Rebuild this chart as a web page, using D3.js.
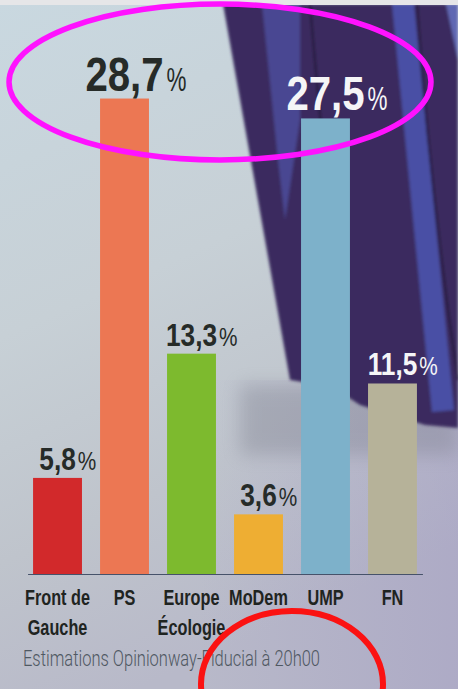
<!DOCTYPE html>
<html>
<head>
<meta charset="utf-8">
<script src="https://cdn.jsdelivr.net/npm/d3@7"></script>
<style>
  html, body { margin: 0; padding: 0; background: #c4cdd4; }
  svg { display: block; }
</style>
</head>
<body>
<div class="chart"></div>
<script>
// ---------------------------------------- data ----------------------------------------
const parties = ["Front de Gauche", "PS", "Europe Écologie", "MoDem", "UMP", "FN"];
const partyLines = [["Front de", "Gauche"], ["PS"], ["Europe", "Écologie"], ["MoDem"], ["UMP"], ["FN"]];
const scores = [5.8, 28.7, 13.3, 3.6, 27.5, 11.5];
const scoreLabels = ["5,8", "28,7", "13,3", "3,6", "27,5", "11,5"];
const partyColours = ["#d2292b", "#ec7753", "#7dba2e", "#eeae33", "#7db1ca", "#b6b299"];
const darkBackdrop = ["UMP", "FN"]; // labels printed over the purple photo
const source = "Estimations Opinionway-Fiducial à 20h00";

const W = 458, H = 689;
const font = "'Liberation Sans', Arial, sans-serif";

const svg = d3.select(".chart").append("svg")
    .attr("width", W)
    .attr("height", H);

// ---------------------------------------- backdrop (the photo behind the chart) ----------------------------------------
const defs = svg.append("defs");
const bgGrad = defs.append("linearGradient").attr("id", "bg")
    .attr("x1", 0).attr("y1", 0).attr("x2", 0.3).attr("y2", 1);
[["0", "#c9d8e0"], ["0.45", "#c7d0d6"], ["0.75", "#bfc4cc"], ["1", "#b8b9c9"]]
    .forEach(s => bgGrad.append("stop").attr("offset", s[0]).attr("stop-color", s[1]));

const lav = defs.append("linearGradient").attr("id", "lav")
    .attr("x1", 0).attr("y1", 0).attr("x2", 1).attr("y2", 0);
lav.append("stop").attr("offset", "0").attr("stop-color", "#9a90c0").attr("stop-opacity", 0);
lav.append("stop").attr("offset", "1").attr("stop-color", "#9a90c0").attr("stop-opacity", 0.35);

defs.append("filter").attr("id", "soft")
    .append("feGaussianBlur").attr("stdDeviation", 1.6);
defs.append("filter").attr("id", "smudge")
    .attr("x", "-20%").attr("y", "-50%").attr("width", "140%").attr("height", "200%")
    .append("feGaussianBlur").attr("stdDeviation", 9);

svg.append("rect").attr("width", W).attr("height", H).attr("fill", "url(#bg)");
svg.append("rect").attr("x", 200).attr("y", 380).attr("width", W - 200).attr("height", H - 380)
    .attr("fill", "url(#lav)");
// smudgy shadows under the purple shape
svg.append("rect").attr("x", 240).attr("y", 385).attr("width", W - 240).attr("height", 70)
    .attr("fill", "#6f7280").attr("opacity", 0.3).attr("filter", "url(#smudge)");

const photo = svg.append("g").attr("filter", "url(#soft)");
photo.append("polygon")
    .attr("points", "223,4 458,4 458,428 425,425 360,405 340,392 302,382 290,380")
    .attr("fill", "#3b2c5f");
photo.append("polygon")
    .attr("points", "262,4 300,4 300,120 285,220 278,160")
    .attr("fill", "#4d4fa3").attr("opacity", 0.75);
photo.append("polygon")
    .attr("points", "392,4 414,4 454,410 432,412")
    .attr("fill", "#4c56b2").attr("opacity", 0.85);
photo.append("polygon")
    .attr("points", "446,4 458,4 458,60")
    .attr("fill", "#6a78c8").attr("opacity", 0.8);
photo.append("path")
    .attr("d", "M310,4 C318,100 330,220 345,330")
    .attr("fill", "none").attr("stroke", "#221838").attr("stroke-width", 2);
photo.append("path")
    .attr("d", "M417,4 C425,120 440,260 458,380")
    .attr("fill", "none").attr("stroke", "#221838").attr("stroke-width", 2);
// paper edge at the top
svg.append("rect").attr("width", W).attr("height", 5).attr("fill", "#e6e6e8");

// ---------------------------------------- scales ----------------------------------------
const x = d3.scaleBand()
    .domain(parties)
    .range([20, 430])
    .paddingInner(0.27)
    .paddingOuter(0.195);

const y = d3.scaleLinear()
    .domain([0, 30])
    .range([574, 77]);

const colour = d3.scaleOrdinal().domain(parties).range(partyColours);

const data = parties.map((p, i) => ({ party: p, lines: partyLines[i], value: scores[i], label: scoreLabels[i] }));
const cx = d => x(d.party) + x.bandwidth() / 2;

// ---------------------------------------- bars ----------------------------------------
svg.append("g").selectAll("rect")
    .data(data)
    .join("rect")
    .attr("x", d => x(d.party))
    .attr("y", d => y(d.value))
    .attr("width", x.bandwidth())
    .attr("height", d => y(0) - y(d.value))
    .attr("fill", d => colour(d.party));

// baseline
svg.append("line")
    .attr("x1", x(parties[0]) - 5)
    .attr("x2", x(parties[parties.length - 1]) + x.bandwidth() + 6)
    .attr("y1", y(0) + 0.5).attr("y2", y(0) + 0.5)
    .attr("stroke", "#46526a").attr("stroke-width", 1.2);

// ---------------------------------------- value labels ----------------------------------------
// the newspaper face is very condensed, so the glyphs get squeezed horizontally
const numSqueeze = 0.82;

const vals = svg.append("g").selectAll("g")
    .data(data)
    .join("g")
    .attr("fill", d => darkBackdrop.includes(d.party) ? "#f5f5f7" : "#262b28");

vals.append("text")
    .attr("class", "num")
    .attr("transform", d => `translate(${cx(d)},${y(d.value) - 8}) scale(${numSqueeze},1)`)
    .attr("text-anchor", "middle")
    .attr("font-family", font)
    .attr("font-weight", "bold")
    .attr("font-size", d => d.value > 20 ? 49 : 32)
    .text(d => d.label);

vals.each(function(d) {
    const g = d3.select(this);
    const big = d.value > 20;
    const w = g.select(".num").node().getComputedTextLength() * numSqueeze;
    g.append("text")
        .attr("transform", `translate(${cx(d) + w / 2 + (big ? 3 : 2)},${y(d.value) - 8}) scale(${big ? 0.66 : 0.8},1)`)
        .attr("font-family", font)
        .attr("font-size", big ? 34 : 26)
        .text("%");
});

// ---------------------------------------- category labels ----------------------------------------
const catSqueeze = 0.74;
const cats = svg.append("g").selectAll("text")
    .data(data)
    .join("text")
    .attr("transform", d => `translate(${cx(d)},605) scale(${catSqueeze},1)`)
    .attr("text-anchor", "middle")
    .attr("font-family", font)
    .attr("font-weight", "bold")
    .attr("font-size", 22)
    .attr("fill", "#1f2421");

cats.selectAll("tspan")
    .data(d => d.lines)
    .join("tspan")
    .attr("x", 0)
    .attr("y", (d, i) => i * 30)
    .text(d => d);

// ---------------------------------------- source ----------------------------------------
svg.append("text")
    .attr("x", 23)
    .attr("y", 666)
    .attr("font-family", "Roboto, 'Liberation Sans', sans-serif")
    .attr("font-weight", 300)
    .attr("font-size", 22)
    .attr("fill", "#4f5862")
    .attr("textLength", 297)
    .attr("lengthAdjust", "spacingAndGlyphs")
    .text(source);

// ---------------------------------------- annotation ellipses drawn over the clipping ----------------------------------------
svg.append("ellipse")
    .attr("cx", 220).attr("cy", 82).attr("rx", 211).attr("ry", 78)
    .attr("fill", "none").attr("stroke", "#ff12ff").attr("stroke-width", 5.5);
svg.append("ellipse")
    .attr("cx", 292).attr("cy", 684).attr("rx", 91).attr("ry", 73)
    .attr("fill", "none").attr("stroke", "#fb1212").attr("stroke-width", 6);
</script>
</body>
</html>
